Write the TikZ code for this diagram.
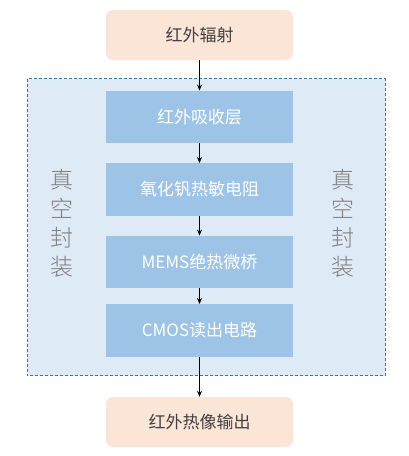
\documentclass[tikz,border=0pt]{standalone}
\usepackage{fontspec}
\setmainfont{Noto Sans CJK SC}
\newfontfamily\cjklight{Noto Sans CJK SC}[UprightFont=* Light]
\usetikzlibrary{arrows.meta}
\definecolor{peach}{HTML}{FBE5D6}
\definecolor{boxblue}{HTML}{9DC3E6}
\definecolor{bgblue}{HTML}{DEEBF7}
\definecolor{dashblue}{HTML}{2E75B6}
\definecolor{darktext}{HTML}{404040}
\definecolor{sidetext}{HTML}{7F7F7F}
\tikzset{
  endbox/.style={fill=peach, rounded corners=7pt, minimum width=187pt, minimum height=50pt, inner sep=0pt, text=darktext, font=\fontsize{17}{20}\selectfont},
  layerbox/.style={fill=boxblue, minimum width=187pt, minimum height=52.5pt, inner sep=0pt, text=white, font=\fontsize{17}{20}\selectfont},
  sidelabel/.style={text=sidetext, align=center, inner sep=0pt, font=\cjklight\fontsize{23}{29}\selectfont},
  flow/.style={draw=black, line width=0.8pt, -{Stealth[length=6pt,width=5pt]}}
}
\begin{document}
\begin{tikzpicture}[x=1pt,y=-1pt]
\useasboundingbox (0,0) rectangle (408,456);
\fill[white] (0,0) rectangle (408,456);
\draw[fill=bgblue, draw=dashblue, densely dashed, line width=0.6pt] (27,78.5) rectangle (385,375.5);
\node[endbox] (src) at (199.5,35) {红外辐射};
\node[layerbox] (l1) at (199.5,117) {红外吸收层};
\node[layerbox] (l2) at (199.5,189.5) {氧化钒热敏电阻};
\node[layerbox] (l3) at (199.5,262) {MEMS绝热微桥};
\node[layerbox] (l4) at (199.5,330.5) {CMOS读出电路};
\node[endbox] (out) at (199.5,422) {红外热像输出};
\node[sidelabel] (sl) at (62,223) {真\\空\\封\\装};
\node[sidelabel] (sr) at (343,223) {真\\空\\封\\装};
\draw[flow] (src) -- (l1);
\draw[flow] (l1) -- (l2);
\draw[flow] (l2) -- (l3);
\draw[flow] (l3) -- (l4);
\draw[flow] (l4) -- (out);
\end{tikzpicture}
\end{document}
